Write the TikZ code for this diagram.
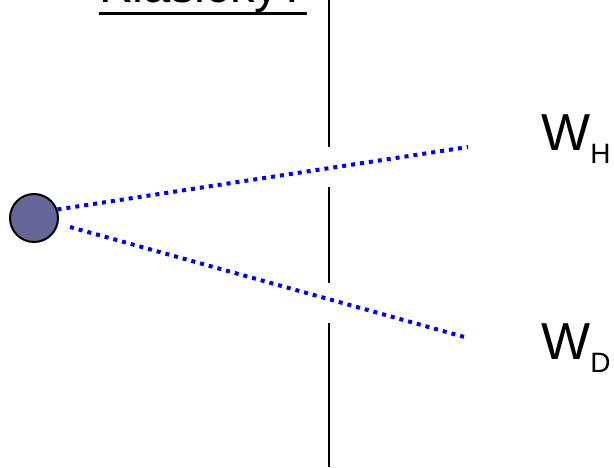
\documentclass[tikz,border=0pt]{standalone}
\usepackage{fontspec}
\setmainfont{Liberation Sans}
\usepackage{tikz}
\usetikzlibrary{positioning}
\definecolor{ballblue}{RGB}{102, 102, 153}

\tikzset{
  wlabel/.style={anchor=base west, inner sep=0pt, font=\fontsize{52}{52}\selectfont},
  pathline/.style={blue, line width=4pt, dash pattern=on 4pt off 5pt},
  wall/.style={black, line width=2pt}
}
\newcommand{\wsub}[1]{\raisebox{-13pt}{\fontsize{28}{28}\selectfont #1}}

\begin{document}
\begin{tikzpicture}[x=1pt, y=-1pt]
  \useasboundingbox (0,0) rectangle (614,467);

  % Title, mostly cut off at the top
  \node (title) [anchor=base, inner sep=0pt, font=\fontsize{49}{49}\selectfont]
    at (203, 2) {Klasický?};
  \draw[line width=3pt] ([yshift=-11pt]title.base west) -- ([yshift=-11pt]title.base east);

  % Wall with two slits
  \coordinate (walltop) at (329, 0);
  \coordinate (slitAtop) at (329, 147);
  \coordinate (slitAbot) at (329, 187);
  \coordinate (slitBtop) at (329, 283);
  \coordinate (slitBbot) at (329, 323);
  \coordinate (wallbot) at (329, 467);
  \draw[wall] (walltop) -- (slitAtop);
  \draw[wall] (slitAbot) -- (slitBtop);
  \draw[wall] (slitBbot) -- (wallbot);

  % Source
  \node (src) [circle, draw=black, line width=2pt, fill=ballblue, minimum size=48pt, inner sep=0pt]
    at (34, 218) {};

  % Detectors
  \coordinate (hend) at (468, 147);
  \coordinate (dstart) at (70, 227);
  \coordinate (dend) at (468, 338);
  \node (wh) [wlabel] at (541, 150) {W\wsub{H}};
  \node (wd) [wlabel] at (541, 359) {W\wsub{D}};

  \draw[pathline] (src.20) -- (hend);
  \draw[pathline] (dstart) -- (dend);

\end{tikzpicture}
\end{document}
